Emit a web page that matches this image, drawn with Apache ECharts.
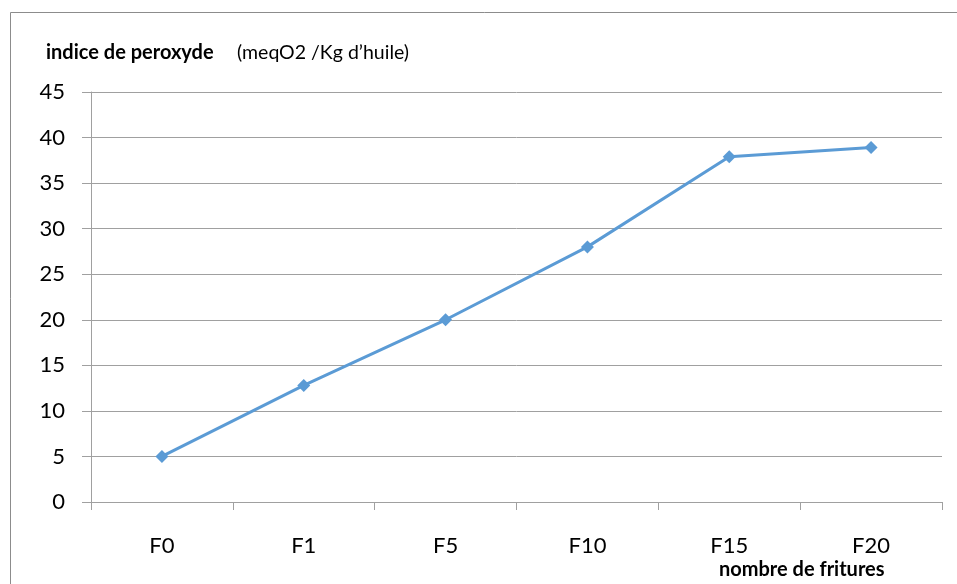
<!DOCTYPE html>
<html><head><meta charset="utf-8">
<script src="https://cdn.jsdelivr.net/npm/echarts@6/dist/echarts.min.js"></script>
<style>html,body{margin:0;padding:0;background:#fff}#c{width:957px;height:584px}</style>
</head><body><div id="c"></div>
<script>
const categories = ['F0','F1','F5','F10','F15','F20'];
const peroxyde = [5, 12.8, 20, 28, 37.9, 38.9];
const yTicks = {min: 0, max: 45, interval: 5};
const yTitleBold = 'indice de peroxyde';
const yTitleUnit = '(meqO2 /Kg d’huile)';
const xTitle = 'nombre de fritures';

const FONT = 'Lato, "Open Sans", sans-serif';
const chart = echarts.init(document.getElementById('c'), null, {renderer:'canvas'});
chart.setOption({
  backgroundColor:'#fff',
  animation:false,
  graphic:[
    {type:'rect', shape:{x:10.5,y:12.5,width:960,height:600}, style:{fill:'none', stroke:'#8c8c8c', lineWidth:1}, z:-1},
    {type:'text', left:46, top:43, style:{text:yTitleBold, font:'bold 20px '+FONT, fill:'#000'}},
    {type:'text', left:237, top:43, style:{text:yTitleUnit, font:'normal 19.5px '+FONT, fill:'#000'}},
    {type:'text', left:719, top:560, style:{text:xTitle, font:'bold 20px '+FONT, fill:'#000'}}
  ],
  grid:{left:91,right:15,top:92,bottom:82,containLabel:false},
  xAxis:{type:'category',data:categories,boundaryGap:true,
    axisLine:{lineStyle:{color:'#a0a0a0',width:1}},
    axisTick:{show:true,length:8,lineStyle:{color:'#a0a0a0'}},
    axisLabel:{color:'#000',fontFamily:FONT,fontSize:22,margin:33},
    splitLine:{show:false}},
  yAxis:{type:'value',min:yTicks.min,max:yTicks.max,interval:yTicks.interval,
    axisLine:{show:true,lineStyle:{color:'#a0a0a0',width:1}},
    axisTick:{show:true,length:9,lineStyle:{color:'#a0a0a0'}},
    axisLabel:{color:'#000',fontFamily:FONT,fontSize:22,margin:26},
    splitLine:{lineStyle:{color:'#a0a0a0',width:1}}},
  series:[{type:'line',data:peroxyde,symbol:'diamond',symbolSize:13,
    lineStyle:{color:'#5b9bd5',width:3},itemStyle:{color:'#5b9bd5'}}]
});
</script></body></html>
